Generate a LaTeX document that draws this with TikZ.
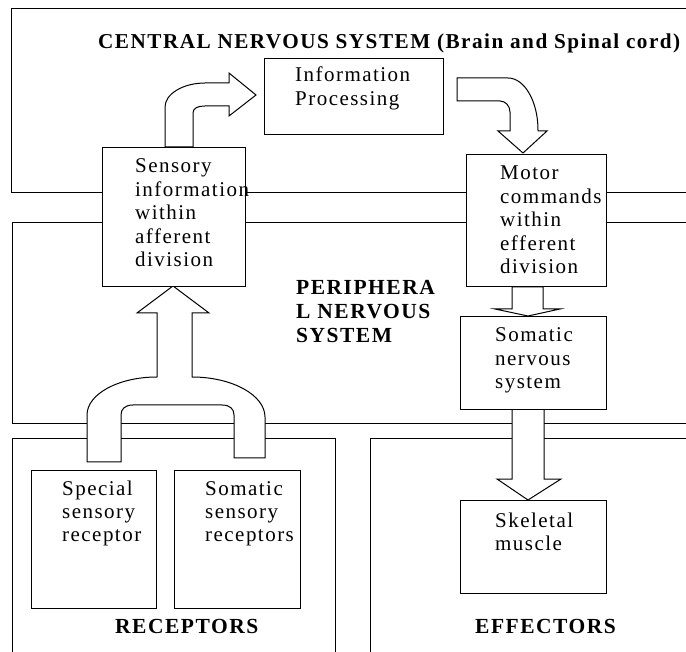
\documentclass[tikz,border=0pt]{standalone}
\usepackage{fontspec}
\setmainfont[LetterSpace=7]{Liberation Serif}
\begin{document}
\begin{tikzpicture}[x=1pt,y=-1pt,
  frame/.style={draw=black, line width=1pt},
  box/.style={draw=black, fill=white, line width=1pt, inner sep=0pt, anchor=north west},
  blockarrow/.style={draw=black, fill=white, line width=1pt, line join=miter},
  txt/.style={anchor=base west, inner sep=0pt, font=\fontsize{21}{23.4}\selectfont},
  bold/.style={txt, font=\fontsize{21.5}{23.6}\selectfont\bfseries}]
\useasboundingbox (0,0) rectangle (686,652);
\clip (0,0) rectangle (686,652);

% outer regions (open towards the right / bottom edge)
\draw[frame] (700,9) -- (11,9) -- (11,193) -- (700,193);
\draw[frame] (700,223) -- (12,223) -- (12,424) -- (700,424);
\draw[frame] (12,670) -- (12,439) -- (335,439) -- (335,670);
\draw[frame] (370,670) -- (370,439) -- (700,439);

% block arrows
\draw[blockarrow] (165,147) -- (165,107) .. controls (165,94) and (183,83) .. (205,83)
  -- (229,83) -- (229,73) -- (256,95) -- (229,116) -- (229,106) -- (205,106)
  .. controls (198,106) and (193,108) .. (193,113) -- (193,147) -- cycle;
\draw[blockarrow] (457,78) -- (508,78) .. controls (524.5,78) and (538,101.4) .. (538,130)
  -- (538,131) -- (547,131) -- (523,153) -- (498,131) -- (510,131) -- (510,112)
  .. controls (510,106) and (505.5,101) .. (500,101) -- (457,101) -- cycle;
\draw[blockarrow] (512,287) -- (512,309) -- (495,309) -- (528,316) -- (560,309)
  -- (543,309) -- (543,287) -- cycle;
\draw[blockarrow] (512,409) -- (512,479) -- (497,479) -- (528,500) -- (561,479)
  -- (544,479) -- (544,409) -- cycle;
\draw[blockarrow] (87,462) -- (87,415) .. controls (87,394) and (118.5,377) .. (157,377)
  -- (157,313) -- (137,313) -- (173,286) -- (209,313) -- (192,313) -- (192,377)
  .. controls (232,377) and (265,395) .. (265,417) -- (265,458) -- (234,458) -- (234,415)
  .. controls (234,409) and (230,405) .. (222,405) -- (133,405)
  .. controls (125,405) and (121,409) .. (121,415) -- (121,462) -- cycle;

% boxes
\node[box, minimum width=179pt, minimum height=76pt] (info) at (264,58) {};
\node[box, minimum width=143pt, minimum height=139pt] (sens) at (102,147) {};
\node[box, minimum width=140pt, minimum height=132pt] (motor) at (466,154) {};
\node[box, minimum width=146pt, minimum height=93pt] (soma) at (460,316) {};
\node[box, minimum width=146pt, minimum height=93pt] (skel) at (460,500) {};
\node[box, minimum width=125pt, minimum height=138pt] (spec) at (31,470) {};
\node[box, minimum width=126pt, minimum height=138pt] (ssr) at (174,470) {};

% labels
\node[bold, font=\fontsize{21.2}{23.6}\selectfont\bfseries] (cnsT) at (98,49) {CENTRAL NERVOUS SYSTEM (Brain and Spinal cord)};
\node[txt] (infoT) at (295,82) {\parbox[t]{160pt}{\raggedright Information\\Processing}};
\node[txt] (sensT) at (135,173) {\parbox[t]{130pt}{\raggedright Sensory\\information\\within\\afferent\\division}};
\node[txt] (motorT) at (500,180) {\parbox[t]{130pt}{\raggedright Motor\\commands\\within\\efferent\\division}};
\node[bold] (pnsT) at (296,295) {\parbox[t]{160pt}{\raggedright PERIPHERA\\L NERVOUS\\SYSTEM}};
\node[txt] (somaT) at (495,342) {\parbox[t]{130pt}{\raggedright Somatic\\nervous\\system}};
\node[txt] (specT) at (62,495) {\parbox[t]{120pt}{\raggedright Special\\sensory\\receptor}};
\node[txt] (ssrT) at (205,495) {\parbox[t]{120pt}{\raggedright Somatic\\sensory\\receptors}};
\node[txt] (skelT) at (495,527) {\parbox[t]{130pt}{\raggedright Skeletal\\muscle}};
\node[bold] (recT) at (115,633) {RECEPTORS};
\node[bold] (effT) at (475,633) {EFFECTORS};
\end{tikzpicture}
\end{document}
